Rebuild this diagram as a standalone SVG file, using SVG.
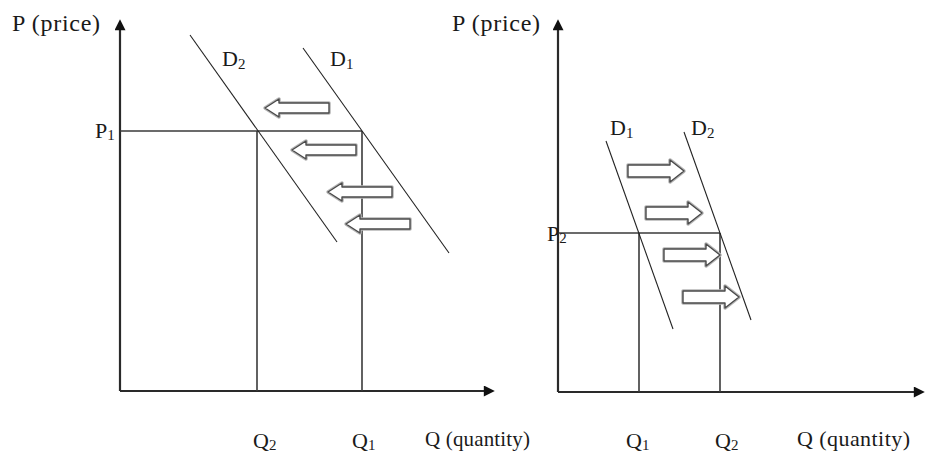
<svg xmlns="http://www.w3.org/2000/svg" xmlns:xlink="http://www.w3.org/1999/xlink" width="928" height="460" viewBox="0 0 928 460">
  <style>
    .axis { stroke: #2a2a2a; stroke-width: 2.2; fill: none; }
    .guide { stroke: #3a3a3a; stroke-width: 1.6; fill: none; }
    .demand { stroke: #222; stroke-width: 1.1; fill: none; }
    .lbl { font-family: "Liberation Serif", "Times New Roman", serif; fill: #1a1a1a; }
    .sub { font-size: 15px; }
    .arrOuter { fill: none; stroke: #b5b5b5; stroke-width: 3.5; stroke-linejoin: round; }
    .arrInner { fill: #fff; stroke: #4a4a4a; stroke-width: 1.4; stroke-linejoin: round; }
  </style>
  <defs>
    <marker id="axHead" viewBox="0 0 10 10" refX="2" refY="5" markerWidth="6" markerHeight="5" markerUnits="strokeWidth" orient="auto">
      <path d="M0,0 L10,5 L0,10 Z" fill="#111"/>
    </marker>
    <g id="leftArrow">
      <path class="arrOuter" d="M0,0 L14,-9 L14,-5 L64,-5 L64,5 L14,5 L14,9 Z"/>
      <path class="arrInner" d="M0,0 L14,-9 L14,-5 L64,-5 L64,5 L14,5 L14,9 Z"/>
    </g>
    <g id="rightArrow">
      <path class="arrOuter" d="M0,0 L-14,-11 L-14,-6 L-56,-6 L-56,6 L-14,6 L-14,11 Z"/>
      <path class="arrInner" d="M0,0 L-14,-11 L-14,-6 L-56,-6 L-56,6 L-14,6 L-14,11 Z"/>
    </g>
  </defs>
  <rect width="928" height="460" fill="#fff"/>

  <!-- Left chart -->
  <g id="left-chart">
    <g id="left-axes">
      <line class="axis" x1="120" y1="391" x2="120" y2="28" marker-end="url(#axHead)"/>
      <line class="axis" x1="120" y1="391" x2="486" y2="391" marker-end="url(#axHead)"/>
    </g>
    <g id="left-guides">
      <line class="guide" x1="120" y1="131" x2="362" y2="131"/>
      <line class="guide" x1="257" y1="131" x2="257" y2="391"/>
      <line class="guide" x1="362" y1="131" x2="362" y2="391"/>
    </g>
    <g id="left-D2">
      <line class="demand" x1="190" y1="35" x2="337" y2="242"/>
      <text class="lbl" x="222" y="66" font-size="22">D<tspan class="sub" dy="3">2</tspan></text>
    </g>
    <g id="left-D1">
      <line class="demand" x1="303" y1="48" x2="449" y2="253"/>
      <text class="lbl" x="330" y="66" font-size="22">D<tspan class="sub" dy="3">1</tspan></text>
    </g>
    <g id="left-shift-arrows">
      <use xlink:href="#leftArrow" href="#leftArrow" x="265" y="108"/>
      <use xlink:href="#leftArrow" href="#leftArrow" x="292" y="150"/>
      <use xlink:href="#leftArrow" href="#leftArrow" x="328" y="192"/>
      <use xlink:href="#leftArrow" href="#leftArrow" x="346" y="224"/>
    </g>
    <g id="left-labels">
      <text class="lbl" x="12" y="31" font-size="24" textLength="88" lengthAdjust="spacing">P (price)</text>
      <text class="lbl" x="95" y="138" font-size="22">P<tspan class="sub" dy="2">1</tspan></text>
      <text class="lbl" x="253" y="448" font-size="22">Q<tspan class="sub" dy="2">2</tspan></text>
      <text class="lbl" x="352" y="448" font-size="22">Q<tspan class="sub" dy="2">1</tspan></text>
      <text class="lbl" x="425" y="446" font-size="21" textLength="105" lengthAdjust="spacing">Q (quantity)</text>
    </g>
  </g>

  <!-- Right chart -->
  <g id="right-chart">
    <g id="right-axes">
      <line class="axis" x1="558" y1="392" x2="558" y2="28" marker-end="url(#axHead)"/>
      <line class="axis" x1="558" y1="392" x2="916" y2="392" marker-end="url(#axHead)"/>
    </g>
    <g id="right-guides">
      <line class="guide" x1="558" y1="233" x2="720" y2="233"/>
      <line class="guide" x1="639" y1="233" x2="639" y2="392"/>
      <line class="guide" x1="720" y1="233" x2="720" y2="392"/>
    </g>
    <g id="right-D1">
      <line class="demand" x1="606" y1="141" x2="673" y2="329"/>
      <text class="lbl" x="610" y="135" font-size="22">D<tspan class="sub" dy="3">1</tspan></text>
    </g>
    <g id="right-D2">
      <line class="demand" x1="684" y1="132" x2="751" y2="320"/>
      <text class="lbl" x="691" y="135" font-size="22">D<tspan class="sub" dy="3">2</tspan></text>
    </g>
    <g id="right-shift-arrows">
      <use xlink:href="#rightArrow" href="#rightArrow" x="684" y="171"/>
      <use xlink:href="#rightArrow" href="#rightArrow" x="702" y="213"/>
      <use xlink:href="#rightArrow" href="#rightArrow" x="720" y="255"/>
      <use xlink:href="#rightArrow" href="#rightArrow" x="739" y="297"/>
    </g>
    <g id="right-labels">
      <text class="lbl" x="452" y="31" font-size="24" textLength="88" lengthAdjust="spacing">P (price)</text>
      <text class="lbl" x="547" y="241" font-size="22">P<tspan class="sub" dy="2">2</tspan></text>
      <text class="lbl" x="626" y="448" font-size="22">Q<tspan class="sub" dy="2">1</tspan></text>
      <text class="lbl" x="715" y="448" font-size="22">Q<tspan class="sub" dy="2">2</tspan></text>
      <text class="lbl" x="797" y="446" font-size="22" textLength="113" lengthAdjust="spacing">Q (quantity)</text>
    </g>
  </g>
</svg>
